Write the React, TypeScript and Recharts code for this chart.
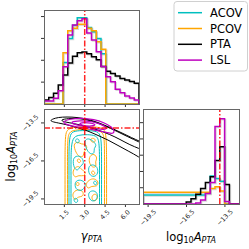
import { LineChart, Line, XAxis, YAxis, ReferenceLine, ReferenceDot } from 'recharts';

const NAMES = ['ACOV', 'PCOV', 'PTA', 'LSL'];
const COLORS = ['#00bfbf', '#ffa500', '#000000', '#bf00bf'];

const TRUE_GAMMA = 3.0;
const TRUE_LOGA = -13.9;

// gamma marginal, 20 bins on [0, 7]
const GAMMA_EDGES = [0, 0.35, 0.7, 1.05, 1.4, 1.75, 2.1, 2.45, 2.8, 3.15, 3.5, 3.85, 4.2, 4.55, 4.9, 5.25, 5.6, 5.95, 6.3, 6.65, 7.0];
const GAMMA_TICKS = [1.5, 3.0, 4.5, 6.0];
const GAMMA_DENS_TICKS = [0.1, 0.2, 0.3, 0.4];
const gammaACOV = [0, 0, 0, 0, 0.19, 0.30, 0.36, 0.395, 0.395, 0.35, 0.33, 0.30, 0.23, 0, 0, 0, 0, 0, 0, 0];
const gammaPCOV = [0, 0, 0, 0, 0.235, 0.335, 0.346, 0.365, 0.365, 0.346, 0.335, 0.285, 0.25, 0, 0, 0, 0, 0, 0, 0];
const gammaPTA = [0.018, 0.03, 0.049, 0.087, 0.133, 0.187, 0.218, 0.235, 0.238, 0.23, 0.216, 0.202, 0.172, 0.15, 0.14, 0.128, 0.117, 0.11, 0.103, 0.095];
const gammaLSL = [0.014, 0.014, 0.026, 0.061, 0.17, 0.316, 0.361, 0.381, 0.39, 0.325, 0.293, 0.239, 0.171, 0.125, 0.102, 0.067, 0.052, 0.037, 0.027, 0.018];

// log10 A marginal, 20 bins on [-19.9, -12.4]
const LOGA_EDGES = [-19.9, -19.525, -19.15, -18.775, -18.4, -18.025, -17.65, -17.275, -16.9, -16.525, -16.15, -15.775, -15.4, -15.025, -14.65, -14.275, -13.9, -13.525, -13.15, -12.775, -12.4];
const LOGA_TICKS = [-19.5, -18.0, -16.5, -15.0, -13.5];
const LOGA_DENS_TICKS = [0.25, 0.5, 0.75, 1.0, 1.25];
const logaACOV = [0.14, 0.14, 0.14, 0.14, 0.14, 0.14, 0.14, 0.14, 0.14, 0.14, 0.14, 0.14, 0.14, 0.17, 0.43, 0.39, 0.35, 0, 0, 0];
const logaPCOV = [0.18, 0.18, 0.18, 0.18, 0.18, 0.18, 0.18, 0.18, 0.18, 0.18, 0.18, 0.18, 0.18, 0.18, 0.24, 0.265, 0.2, 0, 0, 0];
const logaPTA = [0, 0, 0, 0, 0, 0, 0, 0, 0, 0.03, 0.08, 0.15, 0.24, 0.33, 0.42, 0.67, 0.88, 0.3, 0, 0];
const logaLSL = [0, 0, 0, 0, 0, 0, 0, 0, 0, 0, 0, 0.015, 0.06, 0.16, 0.33, 1.19, 1.31, 0.04, 0, 0];

// 2D contours, [gamma, log10A]
const ptaOuter = [[0.44, -13.3], [0.81, -13.11], [1.33, -13.03], [2.06, -13.03], [2.8, -13.11], [3.54, -13.3], [4.27, -13.58], [5.01, -13.93], [5.75, -14.29], [6.48, -14.68], [7.0, -14.92], [7.52, -15.2], [7.52, -16.6], [7.0, -16.18], [6.19, -15.71], [5.45, -15.28], [4.72, -14.84], [3.98, -14.49], [3.24, -14.13], [2.51, -13.89], [1.77, -13.66], [1.03, -13.5], [0.59, -13.4]];
const ptaInner = [[1.18, -13.26], [1.77, -13.14], [2.65, -13.14], [3.54, -13.34], [4.42, -13.7], [5.31, -14.13], [6.19, -14.6], [7.0, -15.0], [7.52, -15.28], [7.52, -15.79], [7.0, -15.51], [6.34, -15.24], [5.6, -14.8], [4.86, -14.41], [3.98, -14.05], [3.1, -13.78], [2.21, -13.54], [1.47, -13.42]];
const lslOuter = [[1.33, -13.42], [1.92, -13.18], [2.8, -13.11], [3.68, -13.22], [4.42, -13.46], [5.01, -13.82], [5.23, -14.21], [5.01, -14.37], [4.42, -14.21], [3.68, -14.05], [2.95, -13.89], [2.21, -13.78], [1.62, -13.62]];
const lslInner = [[1.92, -13.42], [2.65, -13.3], [3.54, -13.38], [4.27, -13.62], [4.72, -13.93], [4.42, -14.05], [3.68, -13.89], [2.95, -13.78], [2.21, -13.62]];
const lslCore = [[2.51, -13.5], [3.24, -13.46], [3.91, -13.62], [3.54, -13.78], [2.8, -13.7]];
const pcovBand = [
  [[1.55, -20.5], [1.55, -17], [1.55, -15.63], [1.58, -14.45], [1.69, -14.05], [2.06, -13.86], [3.02, -13.78], [3.98, -13.82], [4.42, -13.97], [4.57, -14.37], [4.61, -15.63], [4.61, -17], [4.61, -20.5]],
  [[1.73, -20.5], [1.73, -17], [1.73, -14.84], [1.84, -14.21], [2.28, -14.05], [3.02, -14.01], [3.83, -14.05], [4.35, -14.21], [4.46, -14.84], [4.46, -17], [4.46, -20.5]],
];
const acovBand = [
  [[1.84, -20.5], [1.84, -17], [1.84, -15.24], [1.92, -14.37], [2.21, -14.13], [3.02, -14.09], [3.83, -14.13], [4.16, -14.37], [4.24, -15.24], [4.24, -17], [4.24, -20.5]],
  [[1.99, -20.5], [1.99, -17], [1.99, -15.63], [2.1, -14.68], [2.51, -14.45], [3.24, -14.41], [3.83, -14.49], [4.09, -14.84], [4.09, -17], [4.09, -20.5]],
];
const pcovBlobs = [
  [[2.15, -15.2], [2.45, -14.95], [2.75, -15.2], [3.1, -15.15], [3.2, -15.55], [2.9, -15.75], [2.95, -16.15], [2.6, -16.2], [2.35, -15.85]],
  [[3.35, -16.1], [3.7, -15.9], [3.95, -16.3], [3.75, -16.55], [3.9, -16.95], [3.55, -17.05], [3.3, -16.6]],
  [[2.2, -17.1], [2.55, -16.85], [2.75, -17.2], [3.1, -17.35], [2.95, -17.75], [2.55, -17.6], [2.3, -17.85], [2.1, -17.5]],
  [[3.3, -18.0], [3.7, -17.85], [4.05, -18.15], [3.9, -18.55], [3.5, -18.45], [3.25, -18.75], [3.05, -18.35]],
  [[2.15, -18.95], [2.55, -18.7], [2.95, -18.95], [2.85, -19.35], [2.5, -19.3], [2.3, -19.65], [2.1, -19.3]],
  [[3.35, -14.8], [3.65, -14.65], [3.85, -14.9], [3.6, -15.1]],
  [[2.3, -18.3], [2.5, -18.15], [2.65, -18.35], [2.45, -18.5]],
  [[3.5, -19.25], [3.8, -19.05], [4.0, -19.35], [3.8, -19.7], [3.55, -19.6]],
  [[3.45, -17.35], [3.65, -17.25], [3.8, -17.5], [3.6, -17.65]],
  [[2.4, -16.4], [2.6, -16.3], [2.75, -16.55], [2.55, -16.7]],
];
const acovBlobs = [
  [[2.95, -14.85], [3.3, -14.7], [3.65, -14.95], [3.9, -15.3], [3.65, -15.5], [3.75, -15.9], [3.4, -16.0], [3.1, -15.55]],
  [[2.1, -16.3], [2.45, -16.05], [2.85, -16.25], [2.95, -16.75], [2.65, -16.9], [2.5, -17.3], [2.2, -17.1]],
  [[3.25, -16.95], [3.55, -16.75], [3.95, -16.95], [4.0, -17.5], [3.7, -17.8], [3.3, -17.6]],
  [[2.25, -18.1], [2.7, -17.95], [3.1, -18.25], [3.0, -18.6], [2.75, -18.9], [2.3, -18.75]],
  [[3.25, -19.0], [3.6, -18.8], [3.95, -19.0], [3.95, -19.5], [3.6, -19.75], [3.3, -19.45]],
  [[2.25, -14.85], [2.5, -14.7], [2.65, -14.95], [2.45, -15.15]],
  [[2.15, -19.5], [2.4, -19.4], [2.55, -19.7], [2.3, -19.85]],
  [[3.6, -18.15], [3.8, -18.05], [3.95, -18.3], [3.75, -18.45]],
];

const FONT = 'DejaVu Sans';
const TICK_FS = 6.5;
const fmt = (v: number) => v.toFixed(1).replace('-', '\u2212');
const pts = (arr: number[][]) => arr.map(([x, y]) => ({ x, y }));

function stepRows(edges: number[], cols: number[][]) {
  const n = edges.length - 1;
  const row = (x: number, k: number | null) => {
    const r: any = { x };
    cols.forEach((c, i) => { r['s' + i] = k === null ? 0 : c[k]; });
    return r;
  };
  const rows = [row(edges[0], null)];
  for (let k = 0; k < n; k++) rows.push(row(edges[k], k));
  rows.push(row(edges[n], n - 1));
  rows.push(row(edges[n], null));
  return rows;
}

function XTick({ x, y, payload }: any) {
  const s = fmt(payload.value);
  const ext = (s.length * TICK_FS * 0.6 + TICK_FS * 0.75) * 0.707;
  const cy = y + ext / 2;
  return (
    <text x={x} y={cy} transform={`rotate(-45 ${x} ${cy})`} textAnchor="middle" dominantBaseline="central" fontSize={TICK_FS} fill="#222" fontFamily={FONT}>{s}</text>
  );
}

function YTick({ x, y, payload }: any) {
  const s = fmt(payload.value);
  const ext = (s.length * TICK_FS * 0.6 + TICK_FS * 0.75) * 0.707;
  const cx = x - ext / 2;
  return (
    <text x={cx} y={y} transform={`rotate(-45 ${cx} ${y})`} textAnchor="middle" dominantBaseline="central" fontSize={TICK_FS} fill="#222" fontFamily={FONT}>{s}</text>
  );
}

const redLine = { stroke: '#ff0000', strokeWidth: 1.5, strokeDasharray: '6 2 1.5 2', strokeOpacity: 0.85 };

function Frame({ left, top, width, height }: any) {
  return <div style={{ position: 'absolute', left, top, width, height, border: '1px solid #666', boxSizing: 'border-box', pointerEvents: 'none' }} />;
}

// one marginal histogram panel; shadow=true draws the soft grey offset copy
function Marginal({ rows, width, height, margin, domain, ticks, dens, densTicks, truth, shadow, xHeight, tick }: any) {
  return (
    <LineChart width={width} height={height} data={rows} margin={margin}>
      <XAxis dataKey="x" type="number" domain={domain} ticks={ticks} allowDataOverflow height={xHeight} axisLine={false} tickSize={3}
        tick={shadow ? false : tick} tickFormatter={tick ? undefined : () => ''} tickLine={shadow ? false : { stroke: '#333' }} />
      <YAxis type="number" domain={[0, dens]} ticks={densTicks} allowDataOverflow width={44} axisLine={false} tickSize={3}
        tick={shadow ? false : undefined} tickFormatter={() => ''} tickLine={shadow ? false : { stroke: '#333' }} />
      {NAMES.map((n, i) => (
        <Line key={n} dataKey={'s' + i} type="stepAfter" stroke={shadow ? '#b8b8b8' : COLORS[i]} strokeOpacity={shadow ? 0.55 : 1}
          strokeWidth={1.5} dot={false} activeDot={false} isAnimationActive={false} />
      ))}
      {!shadow && <ReferenceLine x={truth} {...redLine} />}
    </LineChart>
  );
}

export default function App() {
  const gammaRows = stepRows(GAMMA_EDGES, [gammaACOV, gammaPCOV, gammaPTA, gammaLSL]);
  const logaRows = stepRows(LOGA_EDGES, [logaACOV, logaPCOV, logaPTA, logaLSL]);

  const contourLine = (d: number[][], color: string, key: string, closed = true, w = 1) => (
    <Line key={key} data={pts(d)} dataKey="y" type={closed ? 'basisClosed' : 'basis'} stroke={color} strokeWidth={w} dot={false} activeDot={false} isAnimationActive={false} />
  );

  const gammaProps = { rows: gammaRows, width: 141, height: 120, margin: { top: 10, right: 2, bottom: 0, left: 0 }, domain: [0, 7], ticks: GAMMA_TICKS, dens: 0.43, densTicks: GAMMA_DENS_TICKS, truth: TRUE_GAMMA, xHeight: 16 };
  const logaProps = { rows: logaRows, width: 249, height: 249, margin: { top: 109, right: 10, bottom: 0, left: 99 }, domain: [-19.9, -12.4], ticks: LOGA_TICKS, dens: 1.46, densTicks: LOGA_DENS_TICKS, truth: TRUE_LOGA, xHeight: 45, tick: <XTick /> };

  return (
    <div style={{ position: 'absolute', left: 0, top: 0, width: 249, height: 249, background: '#fff', fontFamily: FONT, overflow: 'hidden' }}>
      {/* grey line shadows under the marginals */}
      <div style={{ position: 'absolute', left: 1, top: 1 }}><Marginal {...gammaProps} shadow /></div>
      <div style={{ position: 'absolute', left: 1, top: 1 }}><Marginal {...logaProps} shadow /></div>

      {/* gamma marginal */}
      <div style={{ position: 'absolute', left: 0, top: 0 }}><Marginal {...gammaProps} /></div>

      {/* 2D posterior */}
      <div style={{ position: 'absolute', left: 0, top: 0 }}>
        <LineChart width={141} height={249} margin={{ top: 109, right: 2, bottom: 0, left: 0 }}>
          <XAxis dataKey="x" type="number" domain={[0, 7]} ticks={GAMMA_TICKS} allowDataOverflow height={45} axisLine={false} tickSize={3} tick={<XTick />} tickLine={{ stroke: '#333' }} />
          <YAxis dataKey="y" type="number" domain={[-19.9, -12.4]} ticks={LOGA_TICKS} allowDataOverflow width={44} axisLine={false} tickSize={3} tick={<YTick />} tickLine={{ stroke: '#333' }} />
          {pcovBand.map((d, i) => contourLine(d, COLORS[1], 'pb' + i, false))}
          {acovBand.map((d, i) => contourLine(d, COLORS[0], 'ab' + i, false))}
          {pcovBlobs.map((d, i) => contourLine(d, COLORS[1], 'po' + i, true, 0.9))}
          {acovBlobs.map((d, i) => contourLine(d, COLORS[0], 'ao' + i, true, 0.9))}
          {contourLine(ptaOuter, COLORS[2], 'k0')}
          {contourLine(ptaInner, COLORS[2], 'k1')}
          {contourLine(lslOuter, COLORS[3], 'm0', true, 1.2)}
          {contourLine(lslInner, COLORS[3], 'm1', true, 1.2)}
          {contourLine(lslCore, COLORS[3], 'm2', true, 1.2)}
          <ReferenceLine x={TRUE_GAMMA} {...redLine} />
          <ReferenceLine y={TRUE_LOGA} {...redLine} />
          <ReferenceDot x={TRUE_GAMMA} y={TRUE_LOGA} r={2.2} fill="#ff0000" stroke="none" />
        </LineChart>
      </div>

      {/* log10 A marginal */}
      <div style={{ position: 'absolute', left: 0, top: 0 }}><Marginal {...logaProps} /></div>

      <Frame left={44} top={10} width={96} height={95} />
      <Frame left={44} top={109} width={96} height={96} />
      <Frame left={143} top={109} width={97} height={96} />

      {/* axis titles and legend */}
      <svg width={249} height={249} style={{ position: 'absolute', left: 0, top: 0, pointerEvents: 'none' }} fontFamily={FONT}>
        <text x={91.5} y={239.5} textAnchor="middle" fontSize={11.5} fill="#000">
          <tspan fontStyle="italic">γ</tspan>
          <tspan fontStyle="italic" fontSize={8} dy={2.5}>PTA</tspan>
        </text>
        <text transform="translate(14.5 156.5) rotate(-90)" textAnchor="middle" fontSize={11.5} fill="#000">
          <tspan>log</tspan>
          <tspan fontSize={8} dy={2.5}>10</tspan>
          <tspan fontStyle="italic" dy={-2.5}>A</tspan>
          <tspan fontStyle="italic" fontSize={8} dy={2.5}>PTA</tspan>
        </text>
        <text x={191} y={240.5} textAnchor="middle" fontSize={11.5} fill="#000">
          <tspan>log</tspan>
          <tspan fontSize={8} dy={2.5}>10</tspan>
          <tspan fontStyle="italic" dy={-2.5}>A</tspan>
          <tspan fontStyle="italic" fontSize={8} dy={2.5}>PTA</tspan>
        </text>

        <rect x={174} y={1.5} width={73.5} height={69.5} rx={3} fill="#fff" fillOpacity={0.85} stroke="#d0d0d0" strokeWidth={1} />
        {NAMES.map((n, i) => (
          <g key={n}>
            <line x1={178} x2={202} y1={12.7 + i * 15.8} y2={12.7 + i * 15.8} stroke={COLORS[i]} strokeWidth={1.5} />
            <text x={210} y={12.7 + i * 15.8} dominantBaseline="central" fontSize={11.5} fill="#000">{n}</text>
          </g>
        ))}
      </svg>
    </div>
  );
}
